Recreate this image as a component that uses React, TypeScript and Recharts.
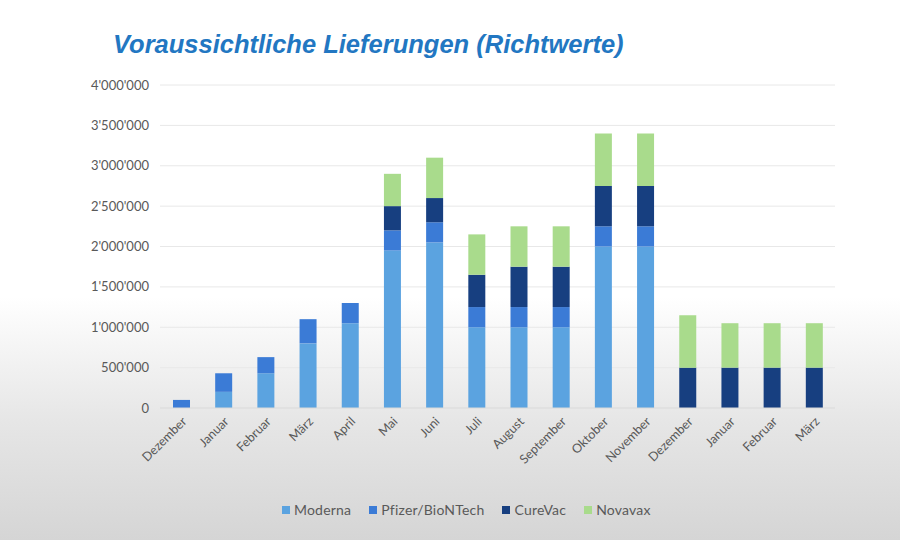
import React from 'react';
import {
  BarChart,
  Bar,
  XAxis,
  YAxis,
  CartesianGrid,
  Legend,
} from 'recharts';

const months = [
  'Dezember', 'Januar', 'Februar', 'März', 'April', 'Mai', 'Juni', 'Juli',
  'August', 'September', 'Oktober', 'November', 'Dezember', 'Januar', 'Februar', 'März',
];
const moderna = [0, 200000, 430000, 800000, 1050000, 1950000, 2050000, 1000000, 1000000, 1000000, 2000000, 2000000, 0, 0, 0, 0];
const pfizer = [100000, 230000, 200000, 300000, 250000, 250000, 250000, 250000, 250000, 250000, 250000, 250000, 0, 0, 0, 0];
const curevac = [0, 0, 0, 0, 0, 300000, 300000, 400000, 500000, 500000, 500000, 500000, 500000, 500000, 500000, 500000];
const novavax = [0, 0, 0, 0, 0, 400000, 500000, 500000, 500000, 500000, 650000, 650000, 650000, 550000, 550000, 550000];
const yTicks = [0, 500000, 1000000, 1500000, 2000000, 2500000, 3000000, 3500000, 4000000];

const series = [
  { key: 'Moderna', color: '#5ba3e0' },
  { key: 'Pfizer/BioNTech', color: '#3b7bd6' },
  { key: 'CureVac', color: '#173f80' },
  { key: 'Novavax', color: '#a9db8c' },
];

const data = months.map((m, i) => ({
  key: i,
  month: m,
  Moderna: moderna[i],
  'Pfizer/BioNTech': pfizer[i],
  CureVac: curevac[i],
  Novavax: novavax[i],
}));

// 4000000 -> 4'000'000
const fmt = (v: number) => String(v).replace(/\B(?=(\d{3})+(?!\d))/g, "'");

const font = 'Lato, "Open Sans", sans-serif';

// legend in series order, like the original
const renderLegend = () => (
  <div style={{ display: 'flex', gap: 18, fontSize: 14, letterSpacing: 0.2, color: '#595959', paddingLeft: 282 }}>
    {series.map((s) => (
      <span key={s.key} style={{ display: 'flex', alignItems: 'center' }}>
        <span style={{ width: 8, height: 8, background: s.color, marginRight: 4, display: 'inline-block' }} />
        {s.key}
      </span>
    ))}
  </div>
);

const App: React.FC = () => {
  return (
    <div
      style={{
        position: 'absolute',
        left: 0,
        top: 0,
        width: 900,
        height: 540,
        background: 'linear-gradient(to bottom, #ffffff 0%, #ffffff 55%, #e6e6e6 78%, #d5d5d5 100%)',
        fontFamily: font,
      }}
    >
      <div
        style={{
          position: 'absolute',
          left: 113,
          top: 30,
          fontFamily: '"Liberation Sans", Arial, sans-serif',
          fontStyle: 'italic',
          fontWeight: 'bold',
          fontSize: 25.5,
          color: '#2277c2',
        }}
      >
        Voraussichtliche Lieferungen (Richtwerte)
      </div>
      <BarChart
        width={900}
        height={540}
        data={data}
        margin={{ top: 85, right: 65, left: 60, bottom: 25 }}
        style={{ position: 'absolute', left: 0, top: 0 }}
      >
        <CartesianGrid stroke="#e8e8e8" vertical={false} />
        <XAxis
          dataKey="key"
          tickFormatter={(i) => months[i]}
          interval={0}
          height={90}
          angle={-45}
          textAnchor="end"
          tick={{ fill: '#595959', fontSize: 12.5 }}
          tickLine={false}
          axisLine={{ stroke: '#d9d9d9' }}
        />
        <YAxis
          width={100}
          domain={[0, 4000000]}
          ticks={yTicks}
          tickFormatter={fmt}
          tick={{ fill: '#595959', fontSize: 13, dx: -3 }}
          axisLine={false}
          tickLine={false}
        />
        <Legend content={renderLegend} wrapperStyle={{ top: 501, left: 0, width: 900 }} />
        {series.map((s) => (
          <Bar key={s.key} dataKey={s.key} stackId="a" fill={s.color} barSize={17} isAnimationActive={false} />
        ))}
      </BarChart>
    </div>
  );
};

export default App;
